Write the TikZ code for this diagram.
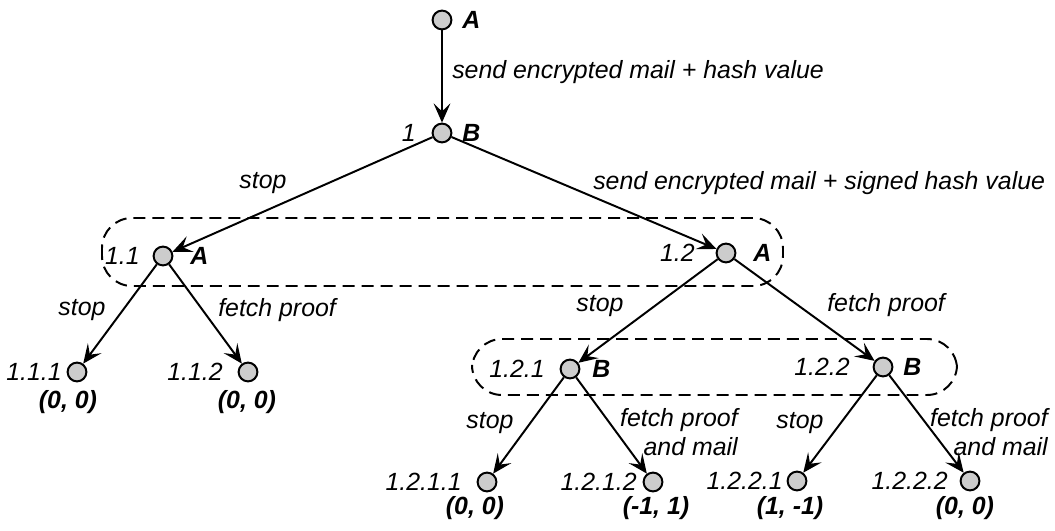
\documentclass[tikz,border=0pt]{standalone}
\usepackage{fontspec}
\setmainfont{Liberation Sans}
\usetikzlibrary{arrows.meta}

\newcommand{\gamefont}{\fontsize{17.7}{20.6}\selectfont}

\begin{document}
\begin{tikzpicture}[x=0.025cm, y=-0.025cm, inner sep=0pt,
  font=\gamefont\itshape,
  state/.style={circle, draw, line width=1.4pt, fill=gray!40, minimum size=0.47cm},
  move/.style={line width=1.4pt, -{Stealth[length=0.48cm, width=0.42cm, inset=0.2cm]}},
  infoset/.style={draw, dash pattern=on 8.5pt off 5pt, line width=1.4pt, rounded corners=0.75cm},
  num/.style={anchor=east},
  who/.style={anchor=west, font=\gamefont\bfseries\itshape},
  pay/.style={font=\gamefont\bfseries\itshape}]
\useasboundingbox (0,0) rectangle (1055,531);

% information sets
\draw[infoset] (102,218) rectangle (783,286);
\draw[infoset] (472,339) rectangle (957,395);

\foreach \n/\x/\y in {r/442/20, n1/442/133, n11/163/256, n12/726/253,
    n111/77/372, n112/248/372, n121/570/369, n122/883/367,
    n1211/487/482, n1212/653/482, n1221/797/481, n1222/970/481}{
	\node[state] (\n) at (\x,\y) {};
}

% node numbers
\foreach \t/\x/\y [count=\i] in {1/416/133, 1.1/140/256, 1.2/695/253,
    1.1.1/62/372, 1.1.2/223/372, 1.2.1/545/369, 1.2.2/850/367,
    1.2.1.1/462/482, 1.2.1.2/637/482, 1.2.2.1/783/481, 1.2.2.2/948/481}{
	\node[num] (num\i) at (\x,\y) {\t};
}

% players
\foreach \t/\x/\y [count=\i] in {A/462/20, B/462/133, A/190/256, A/753/253,
    B/592/369, B/903/367}{
	\node[who] (who\i) at (\x,\y) {\t};
}

% payoffs
\foreach \t/\x/\y [count=\i] in {{(0, 0)}/68/402, {(0, 0)}/247/402,
    {(0, 0)}/475/508, {(-1, 1)}/656/508, {(1, -1)}/790/508, {(0, 0)}/965/508}{
	\node[pay] (pay\i) at (\x,\y) {\t};
}

\draw[move] (r)--(n1);
\draw[move] (n1)--(n11);
\draw[move] (n1)--(n12);
\draw[move] (n11)--(n111);
\draw[move] (n11)--(n112);
\draw[move] (n12)--(n121);
\draw[move] (n12)--(n122);
\draw[move] (n121)--(n1211);
\draw[move] (n121)--(n1212);
\draw[move] (n122)--(n1221);
\draw[move] (n122)--(n1222);

\node[anchor=west] (m1) at (452,72) {send encrypted mail + hash value};
\node (m2) at (263,183) {stop};
\node[anchor=west] (m3) at (593,183) {send encrypted mail + signed hash value};
\node (m4) at (82,310) {stop};
\node[anchor=west] (m5) at (218,310) {fetch proof};
\node (m6) at (600,306) {stop};
\node[anchor=west] (m7) at (827,305) {fetch proof};
\node (m8) at (490,423) {stop};
\node[anchor=east, align=right] (m9) at (738,432) {fetch proof\\and mail};
\node (m10) at (800,423) {stop};
\node[anchor=east, align=right] (m11) at (1048,432) {fetch proof\\and mail};

\end{tikzpicture}
\end{document}
